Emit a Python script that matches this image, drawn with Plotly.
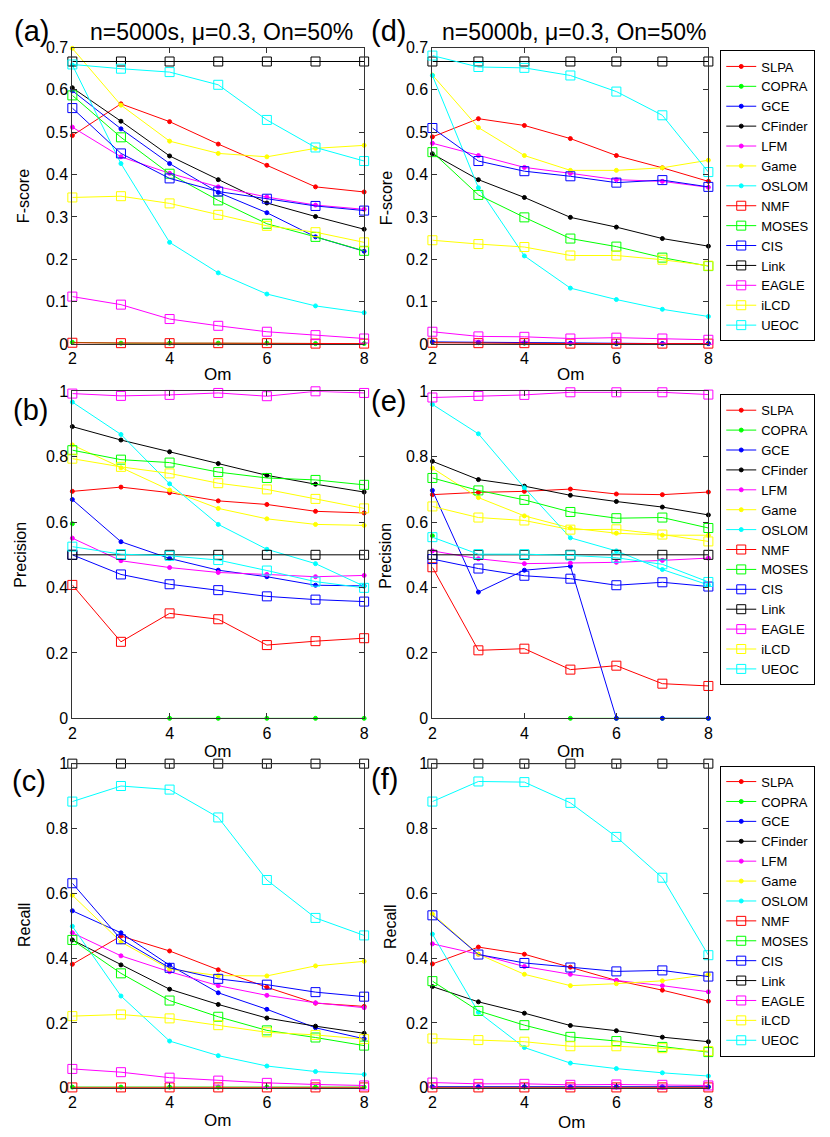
import plotly.graph_objects as go

W, H = 830, 1137

om = [2, 3, 4, 5, 6, 7, 8]
methods = ["SLPA", "COPRA", "GCE", "CFinder", "LFM", "Game", "OSLOM",
           "NMF", "MOSES", "CIS", "Link", "EAGLE", "iLCD", "UEOC"]
colors = ["#ff0000", "#00ff00", "#0000ff", "#000000", "#ff00ff", "#ffff00", "#00ffff",
          "#ff0000", "#00ff00", "#0000ff", "#000000", "#ff00ff", "#ffff00", "#00ffff"]

# rows follow the order of `methods`
fscore_s = [
    [0.492, 0.567, 0.525, 0.472, 0.422, 0.371, 0.359],
    [0.004, 0.002, 0.002, 0.002, 0.002, 0.001, 0.001],
    [0.598, 0.508, 0.426, 0.358, 0.310, 0.253, 0.219],
    [0.605, 0.526, 0.444, 0.388, 0.333, 0.301, 0.271],
    [0.512, 0.442, 0.403, 0.371, 0.347, 0.328, 0.318],
    [0.698, 0.564, 0.479, 0.450, 0.442, 0.462, 0.469],
    [0.659, 0.426, 0.240, 0.168, 0.118, 0.090, 0.074],
    [0.003, 0.002, 0.002, 0.002, 0.002, 0.001, 0.001],
    [0.587, 0.488, 0.402, 0.339, 0.284, 0.253, 0.220],
    [0.557, 0.450, 0.391, 0.360, 0.343, 0.326, 0.315],
    [0.667, 0.667, 0.667, 0.667, 0.667, 0.667, 0.667],
    [0.112, 0.093, 0.059, 0.043, 0.029, 0.021, 0.013],
    [0.346, 0.349, 0.332, 0.305, 0.279, 0.264, 0.240],
    [0.660, 0.650, 0.642, 0.612, 0.529, 0.464, 0.432],
]

fscore_b = [
    [0.489, 0.532, 0.516, 0.485, 0.445, 0.416, 0.384],
    [0.004, 0.003, 0.002, 0.001, 0.001, 0.001, 0.001],
    [0.005, 0.004, 0.003, 0.002, 0.001, 0.001, 0.001],
    [0.449, 0.388, 0.346, 0.299, 0.276, 0.249, 0.231],
    [0.474, 0.445, 0.417, 0.403, 0.388, 0.384, 0.370],
    [0.635, 0.511, 0.445, 0.410, 0.410, 0.416, 0.434],
    [0.634, 0.369, 0.208, 0.132, 0.105, 0.082, 0.065],
    [0.003, 0.002, 0.002, 0.001, 0.001, 0.001, 0.001],
    [0.453, 0.352, 0.299, 0.249, 0.230, 0.204, 0.184],
    [0.510, 0.432, 0.408, 0.396, 0.381, 0.387, 0.371],
    [0.667, 0.667, 0.667, 0.667, 0.667, 0.667, 0.667],
    [0.029, 0.018, 0.017, 0.013, 0.015, 0.013, 0.010],
    [0.245, 0.236, 0.229, 0.209, 0.209, 0.199, 0.185],
    [0.681, 0.654, 0.652, 0.634, 0.596, 0.540, 0.406],
]

precision_s = [
    [0.694, 0.707, 0.690, 0.665, 0.654, 0.633, 0.628],
    [0.595, None, 0.0, 0.0, 0.0, 0.0, 0.0],
    [0.669, 0.540, 0.489, 0.453, 0.433, 0.407, 0.405],
    [0.892, 0.851, 0.815, 0.779, 0.743, 0.716, 0.692],
    [0.551, 0.482, 0.461, 0.446, 0.440, 0.433, 0.437],
    [0.836, 0.766, 0.698, 0.642, 0.610, 0.593, 0.590],
    [0.967, 0.868, 0.717, 0.593, 0.517, 0.473, 0.404],
    [0.408, 0.234, 0.321, 0.303, 0.224, 0.236, 0.245],
    [0.820, 0.791, 0.782, 0.753, 0.735, 0.729, 0.714],
    [0.500, 0.440, 0.410, 0.392, 0.373, 0.363, 0.357],
    [0.500, 0.500, 0.500, 0.500, 0.500, 0.500, 0.500],
    [0.993, 0.986, 0.989, 0.995, 0.985, 1.000, 0.995],
    [0.794, 0.769, 0.749, 0.719, 0.700, 0.671, 0.642],
    [0.525, 0.502, 0.497, 0.484, 0.452, 0.418, 0.399],
]

precision_b = [
    [0.684, 0.691, 0.694, 0.701, 0.686, 0.684, 0.692],
    [0.558, None, None, 0.0, 0.0, 0.0, 0.0],
    [0.697, 0.386, 0.453, 0.465, 0.0, 0.0, 0.0],
    [0.786, 0.730, 0.710, 0.682, 0.663, 0.646, 0.622],
    [0.512, 0.488, 0.473, 0.475, 0.477, 0.483, 0.490],
    [0.765, 0.675, 0.619, 0.582, 0.566, 0.560, 0.560],
    [0.960, 0.870, 0.705, 0.552, 0.512, 0.455, 0.408],
    [0.462, 0.208, 0.213, 0.149, 0.161, 0.106, 0.099],
    [0.735, 0.697, 0.668, 0.631, 0.612, 0.614, 0.582],
    [0.487, 0.458, 0.436, 0.427, 0.407, 0.416, 0.403],
    [0.500, 0.500, 0.500, 0.500, 0.500, 0.500, 0.500],
    [0.981, 0.986, 0.989, 0.997, 0.997, 0.997, 0.990],
    [0.648, 0.614, 0.605, 0.577, 0.578, 0.562, 0.541],
    [0.554, 0.502, 0.502, 0.498, 0.491, 0.471, 0.417],
]

recall_s = [
    [0.381, 0.468, 0.422, 0.364, 0.310, 0.261, 0.251],
    [0.002, 0.002, 0.002, 0.002, 0.002, 0.002, 0.002],
    [0.546, 0.478, 0.378, 0.293, 0.242, 0.185, 0.151],
    [0.456, 0.379, 0.304, 0.257, 0.215, 0.190, 0.168],
    [0.478, 0.407, 0.358, 0.315, 0.285, 0.262, 0.247],
    [0.594, 0.450, 0.366, 0.346, 0.345, 0.376, 0.390],
    [0.498, 0.283, 0.144, 0.099, 0.067, 0.050, 0.041],
    [0.001, 0.001, 0.001, 0.001, 0.001, 0.001, 0.001],
    [0.456, 0.353, 0.269, 0.219, 0.177, 0.155, 0.130],
    [0.631, 0.458, 0.370, 0.336, 0.318, 0.295, 0.281],
    [1.000, 1.000, 1.000, 1.000, 1.000, 1.000, 1.000],
    [0.058, 0.048, 0.031, 0.022, 0.015, 0.010, 0.007],
    [0.221, 0.226, 0.214, 0.193, 0.171, 0.163, 0.150],
    [0.883, 0.931, 0.920, 0.834, 0.641, 0.524, 0.470],
]

recall_b = [
    [0.382, 0.434, 0.412, 0.372, 0.331, 0.301, 0.267],
    [0.002, 0.002, 0.002, 0.002, 0.002, 0.002, 0.002],
    [0.003, 0.003, 0.003, 0.003, 0.003, 0.003, 0.003],
    [0.312, 0.265, 0.230, 0.192, 0.176, 0.156, 0.142],
    [0.444, 0.412, 0.374, 0.350, 0.331, 0.315, 0.296],
    [0.536, 0.412, 0.350, 0.315, 0.321, 0.330, 0.349],
    [0.474, 0.233, 0.124, 0.076, 0.059, 0.046, 0.036],
    [0.001, 0.001, 0.001, 0.001, 0.001, 0.001, 0.001],
    [0.329, 0.237, 0.193, 0.157, 0.144, 0.126, 0.110],
    [0.532, 0.411, 0.385, 0.371, 0.359, 0.362, 0.343],
    [1.000, 1.000, 1.000, 1.000, 1.000, 1.000, 1.000],
    [0.016, 0.012, 0.012, 0.009, 0.010, 0.009, 0.007],
    [0.152, 0.147, 0.142, 0.128, 0.128, 0.122, 0.113],
    [0.883, 0.945, 0.943, 0.879, 0.774, 0.648, 0.409],
]


def px_x(p):
    return p / W


def px_y(p):
    return 1 - p / H


cols = [(61, 356), (425, 704)]
rows = [(32, 333), (381, 713), (759, 1088)]

# (data, row, col, legend or None)
panels = [
    (fscore_s, 0, 0, "legend"),
    (fscore_b, 0, 1, None),
    (precision_s, 1, 0, "legend2"),
    (precision_b, 1, 1, None),
    (recall_s, 2, 0, "legend3"),
    (recall_b, 2, 1, None),
]

fig = go.Figure()
layout = {}
for n, (data, r, c, leg) in enumerate(panels):
    ax = "" if n == 0 else str(n + 1)
    for m, name in enumerate(methods):
        sq = m >= 7
        fig.add_trace(go.Scatter(
            x=om, y=data[m], name=name, mode="lines+markers",
            xaxis="x" + ax, yaxis="y" + ax,
            line=dict(color=colors[m], width=1),
            marker=dict(symbol="square-open" if sq else "circle",
                        size=9 if sq else 4, color=colors[m],
                        line=dict(width=1, color=colors[m])),
            cliponaxis=False,
            showlegend=leg is not None,
            legend=leg if leg else "legend",
        ))
    common = dict(showline=True, mirror="ticks", linecolor="#333", linewidth=1,
                  ticks="inside", ticklen=5, tickcolor="#333", showgrid=False,
                  zeroline=False, tickfont=dict(size=16, color="black"))
    layout["xaxis" + ax] = dict(
        domain=[px_x(cols[c][0]), px_x(cols[c][1])], range=[2, 8],
        tickvals=[2, 4, 6, 8], anchor="y" + ax, **common)
    top = 0.7 if r == 0 else 1.0
    layout["yaxis" + ax] = dict(
        domain=[px_y(rows[r][1]), px_y(rows[r][0])], range=[0, top],
        dtick=0.1 if r == 0 else 0.2, anchor="x" + ax, **common)

fig.update_layout(**layout)

legend_style = dict(xanchor="left", yanchor="top", bordercolor="black", borderwidth=1,
                    bgcolor="white", font=dict(size=13, color="black"))
fig.update_layout(
    legend=dict(x=px_x(716), y=px_y(35), **legend_style),
    legend2=dict(x=px_x(716), y=px_y(384), **legend_style),
    legend3=dict(x=px_x(716), y=px_y(761), **legend_style),
)


def note(text, x, y, size, angle=0):
    fig.add_annotation(text=text, x=px_x(x), y=px_y(y), xref="paper", yref="paper",
                       showarrow=False, xanchor="center", yanchor="middle",
                       textangle=angle, font=dict(size=size, color="black"))


note("n=5000s, μ=0.3, On=50%", 212, 16, 23)
note("n=5000b, μ=0.3, On=50%", 569, 16, 23)
for lbl, x, y in [("(a)", 20, 15), ("(d)", 381, 15), ("(b)", 19, 400),
                  ("(e)", 381, 391), ("(c)", 17, 777), ("(f)", 377, 775)]:
    note(lbl, x, y, 29)
for lbl, x, y in [("F-score", 11, 183), ("F-score", 378, 185),
                  ("Precision", 9, 547), ("Precision", 378, 548),
                  ("Recall", 12, 923), ("Recall", 382, 925)]:
    note(lbl, x, y, 16, -90)
for x, y in [(208, 364), (565, 364), (208, 747), (565, 747), (208, 1121), (566, 1123)]:
    note("Om", x, y, 17)

fig.update_layout(
    width=W, height=H, margin=dict(l=0, r=0, t=0, b=0),
    paper_bgcolor="white", plot_bgcolor="white",
    font=dict(family="Liberation Sans, Arial, sans-serif", color="black"),
)

fig.write_html("out.html")
